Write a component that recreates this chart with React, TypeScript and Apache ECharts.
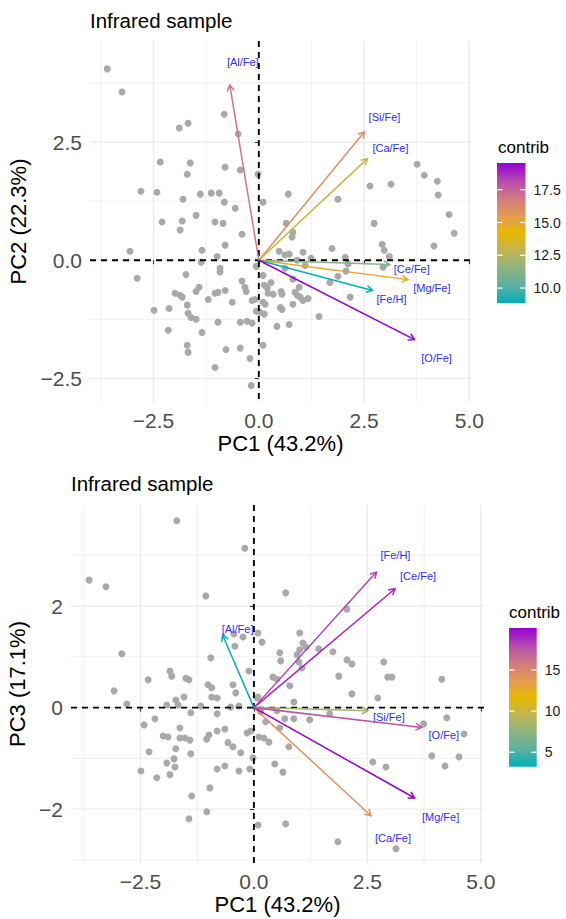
import React, { useEffect, useRef } from "react";
import * as echarts from "echarts";

// ---- variables (loadings) ----
const VARIABLES = ["[Al/Fe]", "[Si/Fe]", "[Ca/Fe]", "[Ce/Fe]", "[Mg/Fe]", "[Fe/H]", "[O/Fe]"];
const LOADING_PC1 = [-0.69, 2.51, 2.58, 3.11, 3.54, 2.7, 3.7];
const LOADING_PC2 = [3.71, 2.72, 2.15, -0.09, -0.41, -0.64, -1.68];
const LOADING_PC3 = [1.43, -0.06, -2.13, 2.34, -1.78, 2.67, -0.39];
const CONTRIB_PC12 = [17.0, 16.0, 13.1, 11.3, 14.9, 8.86, 19.54];
const CONTRIB_PC13 = [3.24, 8.0, 14.2, 19.1, 20.1, 18.2, 17.5];

// ---- individuals (scores) ----
const SCORES_PC1_PC2: [number, number][] = [
  [-3.6, 4.05], [-3.25, 3.56], [-1.89, 2.8], [-1.68, 2.9], [-0.82, 3.09], [-0.49, 2.67], [-2.34, 2.08], [-1.63, 2.06],
  [-0.8, 1.97], [-0.44, 1.91], [-0.02, 1.82], [-1.7, 1.82], [-2.8, 1.46], [-2.42, 1.44], [-1.39, 1.4], [-1.13, 1.42],
  [-0.94, 1.42], [-1.8, 1.29], [-0.82, 1.23], [0.1, 1.23], [-0.56, 1.1], [-1.49, 0.95], [-2.3, 0.81], [-1.82, 0.83],
  [-1.04, 0.81], [-0.85, 0.78], [-1.87, 0.64], [-0.4, 0.55], [-0.8, 0.32], [0.7, 1.4], [1.88, 1.29], [2.64, 1.57],
  [3.14, 1.61], [3.76, 2.03], [3.93, 1.8], [4.24, 1.67], [4.26, 1.38], [0.65, 0.78], [0.81, 0.59], [0.79, 0.49],
  [2.74, 0.78], [4.52, 0.97], [4.64, 0.57], [4.16, 0.3], [2.93, 0.34], [2.98, 0.21], [3.1, 0.08], [1.74, 0.25],
  [2.05, 0.06], [2.12, -0.08], [0.48, 0.19], [0.62, 0.11], [0.72, 0.13], [1.05, 0.17], [0.91, 0.0], [1.24, 0.04],
  [-3.06, 0.19], [-1.35, 0.21], [-0.99, 0.08], [-1.37, -0.04], [-0.06, -0.13], [-2.89, -0.38], [-1.73, -0.3], [-0.92, -0.17],
  [-0.92, -0.25], [0.1, -0.32], [0.62, -0.17], [-0.4, -0.44], [0.29, -0.47], [0.13, -0.53], [0.2, -0.59], [0.81, -0.4],
  [0.96, -0.57], [0.86, -0.68], [0.91, -0.74], [0.53, -0.66], [0.55, -0.72], [0.22, -0.7], [0.34, -0.72], [-0.33, -0.57],
  [-0.3, -0.66], [-0.8, -0.64], [-1.42, -0.57], [-1.49, -0.66], [-1.99, -0.7], [-1.87, -0.74], [-1.82, -0.78], [-1.04, -0.7],
  [-0.97, -0.68], [-1.2, -0.83], [-0.63, -0.89], [-0.16, -0.85], [-0.09, -0.83], [0.1, -0.89], [0.98, -0.78], [1.05, -0.85],
  [1.17, -0.81], [1.88, -0.34], [2.07, -0.23], [1.69, -0.47], [2.17, -0.78], [0.81, -0.93], [0.51, -1.0], [0.55, -1.04],
  [0.15, -0.93], [-0.06, -1.08], [0.03, -1.1], [0.13, -1.14], [1.43, -1.19], [-0.97, -1.31], [-0.44, -1.31], [-0.28, -1.29],
  [-0.16, -1.33], [0.43, -1.4], [0.72, -1.36], [-1.35, -1.53], [-2.49, -1.06], [-2.13, -1.02], [-1.7, -0.95], [-1.68, -1.12],
  [-1.61, -1.21], [-1.49, -1.25], [-2.15, -1.48], [-1.7, -1.8], [-1.68, -1.95], [-0.78, -1.89], [-0.44, -1.86], [0.1, -1.8],
  [-0.21, -2.08], [-1.04, -2.27], [-0.18, -2.65], [2.95, -0.15], [1.1, -0.11],
];

const SCORES_PC1_PC3: [number, number][] = [
  [-1.7, 3.68], [-0.2, 3.14], [-3.63, 2.51], [-3.26, 2.38], [-1.06, 2.2], [0.7, 2.26], [2.05, 1.94], [-0.44, 1.45],
  [-0.24, 1.39], [0.09, 1.47], [0.18, 1.29], [-0.42, 1.21], [-2.91, 1.06], [-0.95, 0.98], [0.57, 1.08], [0.59, 0.92],
  [-0.11, 0.72], [-1.85, 0.72], [-1.81, 0.62], [-2.33, 0.55], [-1.5, 0.58], [-1.43, 0.55], [-1.01, 0.45], [-0.93, 0.39],
  [-0.46, 0.45], [0.42, 0.6], [0.51, 0.56], [-3.08, 0.33], [1.01, 1.47], [1.08, 1.27], [1.15, 1.19], [1.01, 1.14],
  [1.43, 1.16], [1.74, 1.1], [0.95, 1.04], [0.99, 0.9], [1.06, 0.78], [2.05, 0.94], [2.16, 0.86], [2.86, 0.9],
  [1.87, 0.62], [2.95, 0.6], [3.04, 0.6], [4.14, 0.56], [0.79, 0.43], [-0.4, 0.29], [0.09, 0.21], [2.16, 0.27],
  [2.73, 0.19], [0.88, 0.11], [-0.51, 0.01], [-0.33, 0.03], [0.51, -0.06], [0.68, -0.22], [0.88, -0.22], [1.23, -0.24],
  [1.67, -0.12], [3.74, -0.32], [4.25, -0.2], [4.63, -0.52], [-0.15, -0.5], [-0.07, -0.46], [0.11, -0.58], [0.22, -0.6],
  [0.33, -0.68], [0.26, -0.28], [0.57, -0.4], [-0.64, -0.42], [-0.57, -0.69], [-0.46, -0.77], [-0.29, -0.89], [0.77, -0.77],
  [-0.02, -0.99], [-0.64, -1.15], [-0.33, -1.25], [-0.09, -1.21], [0.46, -1.11], [0.64, -1.27], [2.62, -1.07], [2.91, -1.17],
  [3.92, -0.95], [4.21, -1.15], [4.52, -0.97], [0.09, -2.31], [0.7, -2.29], [1.85, -2.64], [3.13, -2.78], [-2.8, 0.07],
  [-1.92, 0.05], [-1.72, 0.15], [-1.67, 0.05], [-1.54, 0.21], [-1.17, 0.03], [-0.93, 0.21], [-0.81, 0.19], [-1.39, -0.1],
  [-0.81, -0.12], [-2.42, -0.34], [-2.18, -0.22], [-1.63, -0.4], [-2.0, -0.56], [-1.89, -0.58], [-1.63, -0.6], [-1.52, -0.6],
  [-1.41, -0.64], [-0.99, -0.54], [-1.04, -0.62], [-0.81, -0.46], [-2.31, -0.87], [-1.72, -0.81], [-1.39, -0.91], [-1.92, -1.09],
  [-1.76, -1.01], [-1.74, -1.17], [-2.49, -1.25], [-2.14, -1.38], [-1.85, -1.32], [-0.81, -1.21], [-0.97, -1.58], [-1.37, -1.74],
  [-1.04, -2.05], [-1.43, -2.19], [0.07, 0.19], [0.15, -0.08],
];

// ---- axis breaks ----
const PC1_BREAKS = [-2.5, 0, 2.5, 5];
const PC1_MINOR = [-3.75, -1.25, 1.25, 3.75];
const PC2_BREAKS = [-2.5, 0, 2.5];
const PC2_MINOR = [-1.25, 1.25, 3.75];
const PC3_BREAKS = [-2, 0, 2];
const PC3_MINOR = [-3, -1, 1, 3];
const CONTRIB12_BREAKS = [10, 12.5, 15, 17.5];
const CONTRIB13_BREAKS = [5, 10, 15];

const PALETTE = ["#00AFBB", "#5BB1A0", "#8FB37F", "#C0B550", "#E7B800", "#E29A55", "#D07A80", "#B649B0", "#9400D3"];

const FONT = '"Liberation Sans", Arial, Helvetica, sans-serif';
const LABEL_OFFSET_12 = [[13, -23], [20, -15], [23, -11], [22, 5], [24, 8], [19, 9], [22, 18]];
const LABEL_OFFSET_13 = [[15, -6], [21, 6], [22, 22], [23, -13], [26, 19], [19, -17], [22, 8]];

const minus = (s: string) => s.replace("-", "\u2212");

function gridLinesSeries(idx: number, xMajor: number[], xMinor: number[], yMajor: number[], yMinor: number[]) {
  return {
    type: "custom",
    xAxisIndex: idx,
    yAxisIndex: idx,
    silent: true,
    z: 0,
    data: [[0, 0]],
    renderItem: (params: any, api: any) => {
      const cs = params.coordSys;
      const children: any[] = [];
      const vLine = (v: number, w: number) => {
        const px = api.coord([v, 0])[0];
        children.push({ type: "line", shape: { x1: px, y1: cs.y, x2: px, y2: cs.y + cs.height }, style: { stroke: "#EBEBEB", lineWidth: w } });
      };
      const hLine = (v: number, w: number) => {
        const py = api.coord([0, v])[1];
        children.push({ type: "line", shape: { x1: cs.x, y1: py, x2: cs.x + cs.width, y2: py }, style: { stroke: "#EBEBEB", lineWidth: w } });
      };
      xMinor.forEach((v) => vLine(v, 0.8));
      yMinor.forEach((v) => hLine(v, 0.8));
      xMajor.forEach((v) => vLine(v, 1.4));
      yMajor.forEach((v) => hLine(v, 1.4));
      return { type: "group", children };
    },
  };
}

function zeroLinesSeries(idx: number) {
  return {
    type: "custom",
    xAxisIndex: idx,
    yAxisIndex: idx,
    silent: true,
    z: 3,
    data: [[0, 0]],
    renderItem: (params: any, api: any) => {
      const cs = params.coordSys;
      const o = api.coord([0, 0]);
      const st = { stroke: "#000", lineWidth: 1.9, lineDash: [6, 5] };
      return {
        type: "group",
        children: [
          { type: "line", shape: { x1: cs.x, y1: o[1], x2: cs.x + cs.width, y2: o[1] }, style: st },
          { type: "line", shape: { x1: o[0], y1: cs.y, x2: o[0], y2: cs.y + cs.height }, style: st },
        ],
      };
    },
  };
}

function arrowSeries(idx: number, ys: number[], contrib: number[], offsets: number[][]) {
  return {
    type: "custom",
    xAxisIndex: idx,
    yAxisIndex: idx,
    silent: true,
    z: 4,
    encode: { x: 0, y: 1 },
    data: VARIABLES.map((name, i) => ({ name, value: [LOADING_PC1[i], ys[i], contrib[i]] })),
    renderItem: (params: any, api: any) => {
      const i = params.dataIndex;
      const o = api.coord([0, 0]);
      const e = api.coord([api.value(0), api.value(1)]);
      const color = api.visual("color");
      const ang = Math.atan2(e[1] - o[1], e[0] - o[0]);
      const L = 7;
      const A = Math.PI / 6;
      const h1 = [e[0] - L * Math.cos(ang - A), e[1] - L * Math.sin(ang - A)];
      const h2 = [e[0] - L * Math.cos(ang + A), e[1] - L * Math.sin(ang + A)];
      const off = offsets[i];
      return {
        type: "group",
        children: [
          { type: "line", shape: { x1: o[0], y1: o[1], x2: e[0], y2: e[1] }, style: { stroke: color, lineWidth: 1.5 } },
          { type: "polyline", shape: { points: [h1, e, h2] }, style: { stroke: color, lineWidth: 1.5, fill: null } },
          {
            type: "text",
            x: e[0] + off[0],
            y: e[1] + off[1],
            style: { text: VARIABLES[i], fill: "#2E2EFF", fontSize: 11, fontFamily: FONT, align: "center", verticalAlign: "middle" },
          },
        ],
      };
    },
  };
}

function colorbarSeries(idx: number, breaks: number[], lo: number, hi: number) {
  return {
    type: "custom",
    xAxisIndex: idx,
    yAxisIndex: idx,
    silent: true,
    z: 2,
    data: [[0.5, (lo + hi) / 2]],
    renderItem: (params: any, api: any) => {
      const cs = params.coordSys;
      const stops = PALETTE.map((c, k) => ({ offset: k / (PALETTE.length - 1), color: c }));
      const children: any[] = [
        {
          type: "rect",
          shape: { x: cs.x, y: cs.y, width: cs.width, height: cs.height },
          style: { fill: new echarts.graphic.LinearGradient(0, 1, 0, 0, stops) },
        },
      ];
      breaks.forEach((v) => {
        const py = api.coord([0, v])[1];
        const ts = { stroke: "#FFFFFF", lineWidth: 1.2 };
        children.push({ type: "line", shape: { x1: cs.x, y1: py, x2: cs.x + 5.5, y2: py }, style: ts });
        children.push({ type: "line", shape: { x1: cs.x + cs.width - 5.5, y1: py, x2: cs.x + cs.width, y2: py }, style: ts });
      });
      return { type: "group", children };
    },
  };
}

const tickStyle = { show: true, length: 4, lineStyle: { color: "#333333", width: 1.1 } };

function plotXAxis(idx: number, min: number, max: number) {
  return {
    type: "value",
    gridIndex: idx,
    min,
    max,
    name: "PC1 (43.2%)",
    nameLocation: "middle",
    nameGap: 30,
    nameTextStyle: { fontSize: 22, color: "#000", fontFamily: FONT },
    axisLine: { show: false },
    splitLine: { show: false },
    axisTick: { ...tickStyle, customValues: PC1_BREAKS },
    axisLabel: {
      customValues: PC1_BREAKS,
      formatter: (v: number) => minus(v.toFixed(1)),
      fontSize: 21,
      color: "#4D4D4D",
      fontFamily: FONT,
      margin: 8,
    },
  };
}

function plotYAxis(idx: number, min: number, max: number, name: string, breaks: number[], digits: number, gap: number) {
  return {
    type: "value",
    gridIndex: idx,
    min,
    max,
    name,
    nameLocation: "middle",
    nameGap: gap,
    nameTextStyle: { fontSize: 22, color: "#000", fontFamily: FONT },
    axisLine: { show: false },
    splitLine: { show: false },
    axisTick: { ...tickStyle, customValues: breaks },
    axisLabel: {
      customValues: breaks,
      formatter: (v: number) => minus(v.toFixed(digits)),
      fontSize: 21,
      color: "#4D4D4D",
      fontFamily: FONT,
      margin: 8,
    },
  };
}

function legendYAxis(idx: number, lo: number, hi: number, breaks: number[], digits: number) {
  return {
    type: "value",
    gridIndex: idx,
    min: lo,
    max: hi,
    position: "right",
    axisLine: { show: false },
    axisTick: { show: false },
    splitLine: { show: false },
    axisLabel: {
      customValues: breaks,
      formatter: (v: number) => v.toFixed(digits),
      fontSize: 14,
      color: "#1A1A1A",
      fontFamily: FONT,
      margin: 8,
    },
  };
}

const hiddenX = (idx: number) => ({ type: "value", gridIndex: idx, min: 0, max: 1, show: false });

export default function App() {
  const ref = useRef<HTMLDivElement>(null);

  useEffect(() => {
    if (!ref.current) return;
    const chart = echarts.init(ref.current, null, { renderer: "svg" });

    const lo12 = Math.min(...CONTRIB_PC12);
    const hi12 = Math.max(...CONTRIB_PC12);
    const lo13 = Math.min(...CONTRIB_PC13);
    const hi13 = Math.max(...CONTRIB_PC13);

    const titleStyle = { fontSize: 20.5, fontWeight: "normal", color: "#000", fontFamily: FONT };
    const legendTitleStyle = { fontSize: 17, fontWeight: "normal", color: "#000", fontFamily: FONT };

    chart.setOption({
      animation: false,
      backgroundColor: "#FFFFFF",
      title: [
        { text: "Infrared sample", left: 90, top: 10, padding: 0, textStyle: titleStyle },
        { text: "Infrared sample", left: 71, top: 473, padding: 0, textStyle: titleStyle },
        { text: "contrib", left: 498, top: 139, padding: 0, textStyle: legendTitleStyle },
        { text: "contrib", left: 509, top: 604, padding: 0, textStyle: legendTitleStyle },
      ],
      grid: [
        { left: 90, top: 41, width: 381, height: 361, outerBoundsMode: "none" },
        { left: 71, top: 505, width: 413, height: 358, outerBoundsMode: "none" },
        { left: 497, top: 163, width: 28.5, height: 140, outerBoundsMode: "none" },
        { left: 509, top: 628, width: 27.7, height: 138.7, outerBoundsMode: "none" },
      ],
      xAxis: [plotXAxis(0, -4.01, 5.04), plotXAxis(1, -4.03, 5.07), hiddenX(2), hiddenX(3)],
      yAxis: [
        plotYAxis(0, -3.0, 4.64, "PC2 (22.3%)", PC2_BREAKS, 1, 57),
        plotYAxis(1, -3.06, 3.99, "PC3 (17.1%)", PC3_BREAKS, 0, 38),
        legendYAxis(2, lo12, hi12, CONTRIB12_BREAKS, 1),
        legendYAxis(3, lo13, hi13, CONTRIB13_BREAKS, 0),
      ],
      visualMap: [
        { type: "continuous", show: false, seriesIndex: 3, dimension: 2, min: lo12, max: hi12, inRange: { color: PALETTE } },
        { type: "continuous", show: false, seriesIndex: 7, dimension: 2, min: lo13, max: hi13, inRange: { color: PALETTE } },
      ],
      series: [
        gridLinesSeries(0, PC1_BREAKS, PC1_MINOR, PC2_BREAKS, PC2_MINOR),
        {
          type: "scatter",
          xAxisIndex: 0,
          yAxisIndex: 0,
          z: 2,
          symbolSize: 7,
          silent: true,
          itemStyle: { color: "#A9A9A9", opacity: 1 },
          data: SCORES_PC1_PC2,
        },
        zeroLinesSeries(0),
        arrowSeries(0, LOADING_PC2, CONTRIB_PC12, LABEL_OFFSET_12),
        gridLinesSeries(1, PC1_BREAKS, PC1_MINOR, PC3_BREAKS, PC3_MINOR),
        {
          type: "scatter",
          xAxisIndex: 1,
          yAxisIndex: 1,
          z: 2,
          symbolSize: 7,
          silent: true,
          itemStyle: { color: "#A9A9A9", opacity: 1 },
          data: SCORES_PC1_PC3,
        },
        zeroLinesSeries(1),
        arrowSeries(1, LOADING_PC3, CONTRIB_PC13, LABEL_OFFSET_13),
        colorbarSeries(2, CONTRIB12_BREAKS, lo12, hi12),
        colorbarSeries(3, CONTRIB13_BREAKS, lo13, hi13),
      ],
    });

    return () => chart.dispose();
  }, []);

  return <div ref={ref} style={{ position: "fixed", left: 0, top: 0, width: 566, height: 919, background: "#fff" }} />;
}
